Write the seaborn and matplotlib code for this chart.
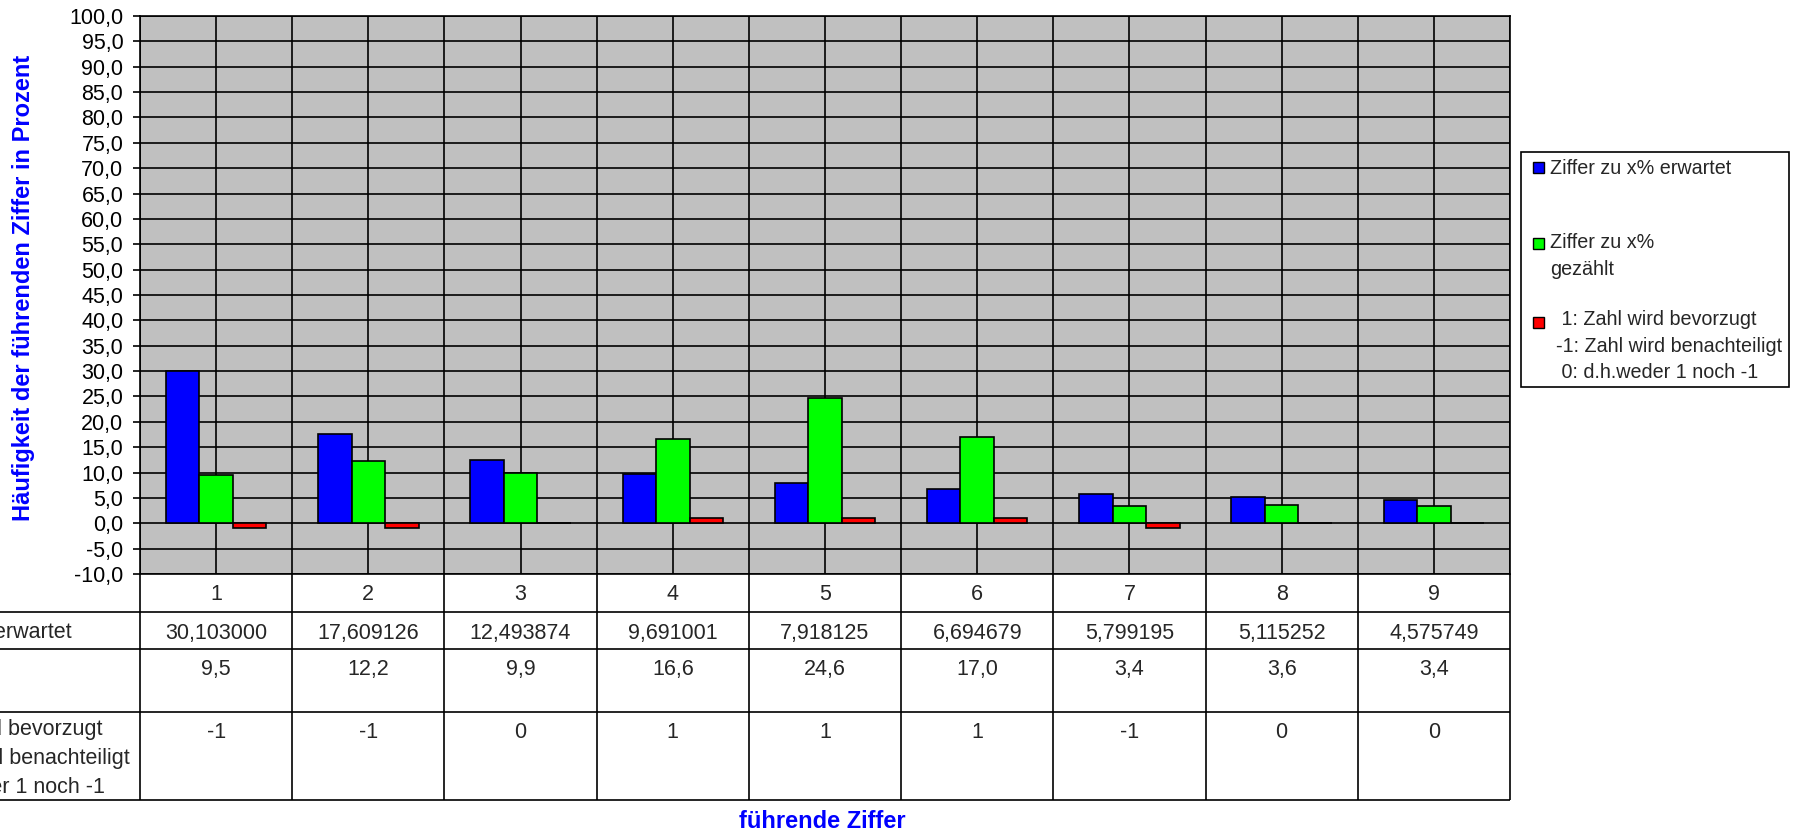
import numpy as np
import pandas as pd
import matplotlib
matplotlib.use("Agg")
import matplotlib.pyplot as plt
from matplotlib.patches import Rectangle
import seaborn as sns

# --- data -------------------------------------------------------------
digits = ["1", "2", "3", "4", "5", "6", "7", "8", "9"]
expected = [30.103000, 17.609126, 12.493874, 9.691001, 7.918125,
            6.694679, 5.799195, 5.115252, 4.575749]
counted = [9.5, 12.2, 9.9, 16.6, 24.6, 17.0, 3.4, 3.6, 3.4]
preference = [-1, -1, 0, 1, 1, 1, -1, 0, 0]

series_keys = ["erwartet", "gezählt", "bevorzugt"]
series_labels = [
    "Ziffer zu x% erwartet",
    "Ziffer zu x%\ngezählt",
    " 1: Zahl wird bevorzugt\n-1: Zahl wird benachteiligt\n 0: d.h.weder 1 noch -1",
]
series_colors = ["#0000FF", "#00FF00", "#FF0000"]
y_ticks = np.arange(-10, 101, 5)

# --- style ------------------------------------------------------------
sns.set_style("white")
plt.rcParams["font.family"] = ["Liberation Sans", "DejaVu Sans"]

W, H = 1802, 832
fig = plt.figure(figsize=(W / 100, H / 100), dpi=100)
fig.patch.set_facecolor("white")


def fig_box(x0, y0, x1, y1):
    """pixel box measured from the top-left corner -> figure rect"""
    return [x0 / W, 1 - y1 / H, (x1 - x0) / W, (y1 - y0) / H]


def fx(x):
    return x / W


def fy(y):
    return 1 - y / H


LW = 1.2
FS = 15.5
FS_LEG = 14.2
LSP_TAB = 1.49
LSP_LEG = 1.53


def line_step(size_pt, lsp):
    """baseline-to-baseline distance (px) of multi-line text"""
    em = size_pt * 100 / 72
    return em * (0.21 + 0.716 * lsp)


def last_baseline(first, label, size_pt, lsp):
    return first + label.count("\n") * line_step(size_pt, lsp)


# --- bar chart --------------------------------------------------------
ax = fig.add_axes(fig_box(140, 16, 1510, 574))
df = pd.DataFrame({
    "Ziffer": digits * 3,
    "Wert": expected + counted + preference,
    "Reihe": [series_keys[0]] * 9 + [series_keys[1]] * 9 + [series_keys[2]] * 9,
})
sns.barplot(data=df, x="Ziffer", y="Wert", hue="Reihe", hue_order=series_keys,
            order=digits, palette=series_colors, saturation=1, width=0.66,
            errorbar=None, edgecolor="black", linewidth=LW, legend=False,
            ax=ax, zorder=3)

ax.set_facecolor("#C0C0C0")
ax.set_axisbelow(True)
ax.set_xlim(-0.5, 8.5)
ax.set_ylim(-10, 100)
ax.set_yticks(y_ticks)
ax.set_yticklabels([f"{v:.1f}".replace(".", ",") for v in y_ticks], fontsize=FS)
ax.set_xticks(range(len(digits)))
ax.set_xticks(np.arange(-0.5, len(digits), 1), minor=True)
ax.tick_params(axis="x", which="both", length=0, labelbottom=False)
ax.tick_params(axis="y", which="major", left=True, length=5, width=LW,
               pad=7, colors="black", direction="out")
ax.grid(True, axis="y", which="major", color="black", linewidth=LW)
ax.grid(True, axis="x", which="both", color="black", linewidth=LW)
ax.set_xlabel("")
ax.set_ylabel("")
for sp in ax.spines.values():
    sp.set_color("black")
    sp.set_linewidth(LW)

# --- axis titles ------------------------------------------------------
fig.text(fx(24), fy(288), "Häufigkeit der führenden Ziffer in Prozent",
         rotation=90, ha="center", va="center", fontsize=17,
         fontweight="bold", color="#0000FF")
fig.text(fx(822), fy(828), "führende Ziffer", ha="center", va="baseline",
         fontsize=17, fontweight="bold", color="#0000FF")

# --- data table below the chart --------------------------------------
ax_t = fig.add_axes(fig_box(140, 574, 1510, 800))
ax_t.set_xlim(-0.5, 8.5)
ax_t.set_ylim(226, 0)
ax_t.axis("off")
col_px = 1370 / len(digits)


def col_x(px):
    return -0.5 + (px - 140) / col_px


ax_t.hlines([38, 75, 138, 226], col_x(0), 8.5, color="black", lw=LW,
            clip_on=False)
ax_t.vlines(np.arange(-0.5, len(digits), 1), 0, 226, color="black", lw=LW,
            clip_on=False)

for i, d in enumerate(digits):
    ax_t.text(i, 26, d, ha="center", va="baseline", fontsize=FS)
    ax_t.text(i, 64.5, f"{expected[i]:.6f}".replace(".", ","), ha="center",
              va="baseline", fontsize=FS)
    ax_t.text(i, 100.5, f"{counted[i]:.1f}".replace(".", ","), ha="center",
              va="baseline", fontsize=FS)
    ax_t.text(i, 164, str(preference[i]), ha="center", va="baseline",
              fontsize=FS)

ax_t.text(col_x(-125), 64.5, series_labels[0], ha="left",
          va="baseline", fontsize=FS, clip_on=False)
ax_t.text(col_x(-125), last_baseline(100.5, series_labels[1], FS, LSP_TAB),
          series_labels[1], ha="left", va="baseline", fontsize=FS,
          linespacing=LSP_TAB, clip_on=False)
ax_t.text(col_x(130), last_baseline(164, series_labels[2], FS, LSP_TAB),
          series_labels[2], ha="right", va="baseline", multialignment="left",
          fontsize=FS, linespacing=LSP_TAB, clip_on=False)

# --- legend -------------------------------------------------------------
fig.add_artist(Rectangle((fx(1521), fy(387)), 268 / W, 235 / H,
                         transform=fig.transFigure, facecolor="white",
                         edgecolor="black", lw=LW))
key_tops = [162, 238, 317]
text_pos = [(1550, 174), (1550, 249), (1556, 327)]
for lab, col, top, (tx, ty) in zip(series_labels, series_colors, key_tops,
                                   text_pos):
    fig.add_artist(Rectangle((fx(1533), fy(top + 11)), 11 / W, 11 / H,
                             transform=fig.transFigure, facecolor=col,
                             edgecolor="black", lw=1.0))
    fig.text(fx(tx), fy(last_baseline(ty, lab, FS_LEG, LSP_LEG)), lab,
             ha="left", va="baseline", fontsize=FS_LEG, linespacing=LSP_LEG,
             multialignment="left")

fig.savefig("out.png", dpi=100)
